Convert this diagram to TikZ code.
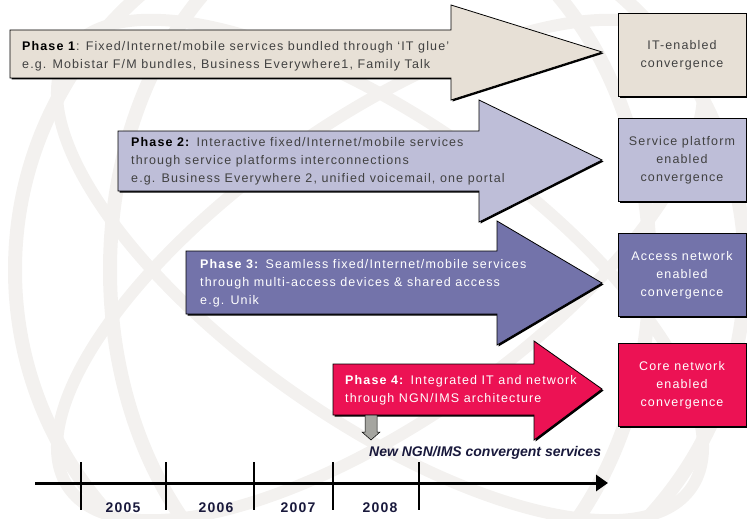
\documentclass[tikz,border=0pt]{standalone}
\usepackage{fontspec}
\setmainfont{Liberation Sans}
\newfontfamily\widesans[LetterSpace=9,Ligatures=TeX]{Liberation Sans}
\usetikzlibrary{arrows.meta,shadows}
\definecolor{phaseonefill}{RGB}{231,224,214}
\definecolor{phasetwofill}{RGB}{190,190,216}
\definecolor{phasethreefill}{RGB}{115,115,170}
\definecolor{phasefourfill}{RGB}{236,18,84}
\definecolor{globegray}{RGB}{243,241,239}
\definecolor{yearblue}{RGB}{25,25,60}
\definecolor{textgray}{RGB}{65,65,65}
\definecolor{pointergray}{RGB}{165,165,160}
\def\phasearrow[#1](#2,#3,#4)(#5,#6,#7)(#8){\draw[phaseshape, fill=#1] (#2,#3) -- (#5,#3) -- (#5,#6) -- (602,#8) -- (#5,#7) -- (#5,#4) -- (#2,#4) -- cycle;}
\tikzset{
  phaseshape/.style={line width=0.8pt, drop shadow={shadow xshift=1.5pt, shadow yshift=-1.5pt, opacity=1, fill=black}},
  phasetext/.style={anchor=west, align=left, inner sep=0pt, font=\widesans\fontsize{12.5}{18}\selectfont},
  convbox/.style={draw, line width=0.8pt, minimum width=128pt, minimum height=83pt, align=center, inner sep=0pt,
    font=\widesans\fontsize{12.5}{18}\selectfont, drop shadow={shadow xshift=1.5pt, shadow yshift=-1.5pt, opacity=1, fill=black}},
  yearlabel/.style={font=\widesans\bfseries\fontsize{14}{16}\selectfont, text=yearblue}
}

\begin{document}
\begin{tikzpicture}[x=1pt, y=-1pt]
			%%%%% START %%%%%
			\useasboundingbox (0,0) rectangle (747,519);
			
			\begin{scope}
			\clip (0,0) rectangle (747,519);
			\draw[line width=14pt, color=globegray] (380,270) circle (365);
			\draw[line width=14pt, color=globegray] (380,270) ellipse (270 and 365);
			\draw[line width=12pt, color=globegray, rotate around={35:(380,270)}] (380,270) ellipse (380 and 150);
			\draw[line width=12pt, color=globegray, rotate around={-35:(380,270)}] (380,270) ellipse (380 and 150);
			\end{scope}
			
			\phasearrow[phaseonefill](10,30,78)(451,5,100)(52)
			\phasearrow[phasetwofill](118,131,191)(479,100,222)(160)
			\phasearrow[phasethreefill](186,251,314)(497,221,345)(283)
			\phasearrow[phasefourfill](333,364,415)(534,341,440)(389)
			
			\node[phasetext, text=textgray] (phaseone) at (22,56)
			  {\textcolor{black}{\textbf{Phase 1}}: Fixed/Internet/mobile services bundled through ‘IT glue’\\
			   e.g. Mobistar F/M bundles, Business Everywhere1, Family Talk};
			\node[phasetext, text=textgray] (phasetwo) at (131,161)
			  {\textcolor{black}{\textbf{Phase 2:}} Interactive fixed/Internet/mobile services\\
			   through service platforms interconnections\\
			   e.g. Business Everywhere 2, unified voicemail, one portal};
			\node[phasetext, text=white] (phasethree) at (200,283)
			  {\textbf{Phase 3:} Seamless fixed/Internet/mobile services\\
			   through multi-access devices \& shared access\\
			   e.g. Unik};
			\node[phasetext, text=white] (phasefour) at (345,390)
			  {\textbf{Phase 4:} Integrated IT and network\\
			   through NGN/IMS architecture};
			
			\node[convbox, fill=phaseonefill, text=textgray] (itconv) at (682,55) {IT-enabled\\convergence};
			\node[convbox, fill=phasetwofill, text=textgray] (serviceconv) at (682,160) {Service platform\\enabled\\convergence};
			\node[convbox, fill=phasethreefill, text=white] (accessconv) at (682,275) {Access network\\enabled\\convergence};
			\node[convbox, fill=phasefourfill, text=white] (coreconv) at (682,385) {Core network\\enabled\\convergence};
			
			\draw[fill=pointergray, line width=0.5pt] (365,415) -- (377,415) -- (377,432) -- (380,432) -- (371,440) -- (362,432) -- (365,432) -- cycle;
			\node[anchor=west, inner sep=0pt, font=\bfseries\itshape\fontsize{14}{16}\selectfont, text=yearblue] (ngnlabel) at (369,453) {New NGN/IMS convergent services};
			
			\coordinate (tlstart) at (35,483);
			\coordinate (tlend) at (608,483);
			\draw[line width=3pt, -{Triangle[length=12pt, width=16pt]}] (tlstart) -- (tlend);
			\foreach \x in {81,166,254,333,419}
			  \draw[line width=2pt] (\x,462) -- (\x,510);
			
			\node[yearlabel] (yeartwofive) at (123,508) {2005};
			\node[yearlabel] (yeartwosix) at (216,508) {2006};
			\node[yearlabel] (yeartwoseven) at (298,508) {2007};
			\node[yearlabel] (yeartwoeight) at (380,508) {2008};
			
			%%%%% END %%%%%
\end{tikzpicture}
\end{document}
